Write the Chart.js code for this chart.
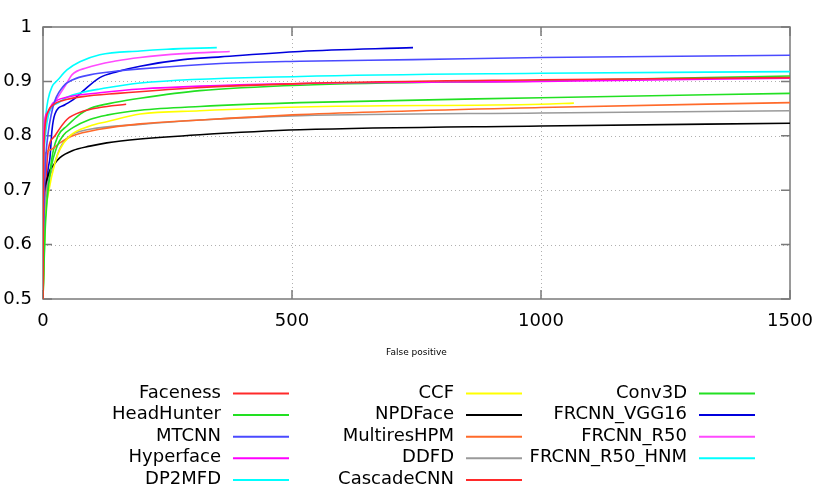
<!DOCTYPE html>
<html>
<head>
<meta charset="utf-8">
<script src="https://cdn.jsdelivr.net/npm/chart.js@4/dist/chart.umd.min.js"></script>
<style>
  html, body { margin: 0; padding: 0; background: #fff; }
  #wrap { width: 830px; height: 498px; }
</style>
</head>
<body>
<div id="wrap"><canvas id="roc" width="830" height="498"></canvas></div>
<script>
// ROC-кривые: [false positive, true positive rate]
const faceness = [[0,0.5],[1,0.72],[3,0.8],[6,0.83],[12,0.848],[22,0.858],[40,0.865],[80,0.872],[150,0.878],[300,0.888],[516,0.896],[1000,0.903],[1500,0.907]];
const headHunter = [[0,0.5],[4,0.62],[8,0.68],[16,0.74],[28,0.78],[40,0.8],[60,0.815],[94,0.83],[128,0.838],[195,0.847],[315,0.854],[516,0.861],[1000,0.87],[1500,0.878]];
const mtcnn = [[0,0.5],[2,0.66],[5,0.75],[8,0.787],[20,0.853],[40,0.89],[60,0.903],[94,0.912],[150,0.919],[195,0.923],[356,0.933],[516,0.937],[743,0.94],[1000,0.944],[1500,0.948]];
const hyperface = [[0,0.5],[1,0.787],[8,0.842],[20,0.86],[48,0.871],[114,0.879],[195,0.886],[516,0.896],[1000,0.9],[1500,0.906]];
const dp2mfd = [[0,0.5],[2,0.75],[4,0.792],[14,0.847],[30,0.86],[48,0.871],[80,0.88],[114,0.886],[195,0.897],[516,0.909],[1000,0.915],[1500,0.918]];
const ccf = [[0,0.5],[2,0.58],[5,0.65],[12,0.7],[24,0.75],[34,0.775],[54,0.8],[94,0.818],[128,0.826],[195,0.84],[315,0.846],[516,0.853],[1000,0.858],[1066,0.86]];
const npdFace = [[0,0.5],[1,0.66],[3,0.7],[8,0.72],[14,0.737],[20,0.745],[34,0.76],[60,0.773],[94,0.781],[128,0.787],[195,0.794],[315,0.802],[516,0.811],[1000,0.818],[1500,0.823]];
const multiresHPM = [[0,0.5],[2,0.7],[4,0.765],[14,0.774],[34,0.787],[60,0.8],[114,0.812],[195,0.822],[315,0.829],[516,0.839],[1000,0.852],[1500,0.861]];
const ddfd = [[0,0.5],[1,0.6],[5,0.68],[10,0.715],[20,0.74],[30,0.768],[40,0.787],[60,0.803],[94,0.812],[195,0.821],[315,0.829],[516,0.837],[1000,0.842],[1500,0.846]];
const cascadeCNN = [[0,0.5],[3,0.65],[6,0.72],[10,0.77],[24,0.8],[48,0.83],[80,0.845],[114,0.852],[167,0.858]];
const conv3D = [[0,0.5],[5,0.66],[12,0.72],[20,0.77],[30,0.8],[48,0.818],[68,0.835],[94,0.85],[149,0.862],[195,0.869],[315,0.883],[516,0.893],[1000,0.901],[1500,0.91]];
const frcnnVgg16 = [[0,0.5],[2,0.6],[4,0.664],[10,0.737],[14,0.76],[18,0.81],[24,0.84],[44,0.857],[60,0.866],[80,0.882],[114,0.907],[149,0.918],[195,0.928],[281,0.94],[356,0.945],[516,0.955],[743,0.962]];
const frcnnR50 = [[0,0.5],[1,0.7],[4,0.805],[14,0.847],[30,0.871],[48,0.897],[58,0.912],[88,0.925],[149,0.938],[195,0.944],[281,0.951],[375,0.955]];
const frcnnR50Hnm = [[0,0.5],[1,0.75],[3,0.8],[6,0.84],[10,0.866],[18,0.89],[30,0.903],[48,0.921],[74,0.936],[114,0.949],[195,0.956],[249,0.959],[349,0.962]];

const methods = ['Faceness', 'HeadHunter', 'MTCNN', 'Hyperface', 'DP2MFD', 'CCF', 'NPDFace',
  'MultiresHPM', 'DDFD', 'CascadeCNN', 'Conv3D', 'FRCNN_VGG16', 'FRCNN_R50', 'FRCNN_R50_HNM'];
const curves = [faceness, headHunter, mtcnn, hyperface, dp2mfd, ccf, npdFace,
  multiresHPM, ddfd, cascadeCNN, conv3D, frcnnVgg16, frcnnR50, frcnnR50Hnm];
const xTicks = [0, 500, 1000, 1500];
const yTicks = [0.5, 0.6, 0.7, 0.8, 0.9, 1];

const colors = ['#ff2a2a', '#22e022', '#4a4aff', '#ff00ff', '#00ffff', '#ffff00', '#000000',
  '#ff6a2a', '#9a9a9a', '#ff2a2a', '#22e022', '#0000dd', '#ff4aff', '#00ffff'];

const FONT = 'DejaVu Sans';

// рамка, пунктирная сетка и засечки внутрь, как в gnuplot
const framePlugin = {
  id: 'frame',
  beforeDatasetsDraw(chart) {
    const { ctx, chartArea: a, scales: { x, y } } = chart;
    ctx.save();
    ctx.strokeStyle = '#b0b0b0';
    ctx.lineWidth = 1;
    ctx.setLineDash([1, 3]);
    ctx.beginPath();
    for (const v of xTicks.slice(1, -1)) {
      const px = Math.round(x.getPixelForValue(v)) + 0.5;
      ctx.moveTo(px, a.top); ctx.lineTo(px, a.bottom);
    }
    for (const v of yTicks.slice(1, -1)) {
      const py = Math.round(y.getPixelForValue(v)) + 0.5;
      ctx.moveTo(a.left, py); ctx.lineTo(a.right, py);
    }
    ctx.stroke();
    ctx.setLineDash([]);
    ctx.strokeStyle = '#7a7a7a';
    ctx.lineWidth = 1.5;
    ctx.strokeRect(a.left, a.top, a.right - a.left, a.bottom - a.top);
    ctx.beginPath();
    for (const v of xTicks) {
      const px = x.getPixelForValue(v);
      ctx.moveTo(px, a.bottom); ctx.lineTo(px, a.bottom - 9);
      ctx.moveTo(px, a.top); ctx.lineTo(px, a.top + 9);
    }
    for (const v of yTicks) {
      const py = y.getPixelForValue(v);
      ctx.moveTo(a.left, py); ctx.lineTo(a.left + 9, py);
      ctx.moveTo(a.right, py); ctx.lineTo(a.right - 9, py);
    }
    ctx.stroke();
    ctx.restore();
  }
};

// легенда снизу: три колонки, подпись справа выровнена, образец линии после неё
const legendPlugin = {
  id: 'bottomLegend',
  afterDraw(chart) {
    const ctx = chart.ctx;
    ctx.save();
    ctx.font = '18px "' + FONT + '"';
    ctx.textAlign = 'right';
    ctx.textBaseline = 'middle';
    chart.data.datasets.forEach((ds, i) => {
      const col = Math.floor(i / 5), row = i % 5;
      const right = 221 + col * 233;
      const yy = 393 + row * 21.6;
      ctx.fillStyle = '#000';
      ctx.fillText(ds.label, right, yy);
      ctx.strokeStyle = ds.borderColor;
      ctx.lineWidth = 2;
      ctx.beginPath();
      ctx.moveTo(right + 12, yy + 0.5);
      ctx.lineTo(right + 68, yy + 0.5);
      ctx.stroke();
    });
    ctx.restore();
  }
};

new Chart(document.getElementById('roc'), {
  type: 'scatter',
  data: {
    datasets: methods.map((m, i) => ({
      label: m,
      data: curves[i].map(p => ({ x: p[0], y: p[1] })),
      showLine: true,
      borderColor: colors[i],
      backgroundColor: colors[i],
      borderWidth: 1.6,
      pointRadius: 0,
      cubicInterpolationMode: 'monotone'
    }))
  },
  options: {
    responsive: false,
    animation: false,
    layout: { padding: { top: 27, right: 40, left: 0, bottom: 0 } },
    plugins: { legend: { display: false }, tooltip: { enabled: false } },
    scales: {
      x: {
        type: 'linear', min: 0, max: 1500,
        afterBuildTicks: s => { s.ticks = xTicks.map(v => ({ value: v })); },
        afterFit: s => { s.height = 199; },
        grid: { display: false, drawTicks: false },
        border: { display: false },
        ticks: { color: '#000', padding: 12, font: { family: FONT, size: 18 },
          callback: v => String(v) },
        title: { display: true, text: 'False positive', color: '#000',
          font: { family: FONT, size: 9 }, padding: { top: 0, bottom: 140 } }
      },
      y: {
        type: 'linear', min: 0.5, max: 1,
        afterBuildTicks: s => { s.ticks = yTicks.map(v => ({ value: v })); },
        afterFit: s => { s.width = 43; },
        grid: { display: false, drawTicks: false },
        border: { display: false },
        ticks: { color: '#000', padding: 11, font: { family: FONT, size: 18 },
          callback: v => v === 1 ? '1' : v.toFixed(1) }
      }
    }
  },
  plugins: [framePlugin, legendPlugin]
});
</script>
</body>
</html>
